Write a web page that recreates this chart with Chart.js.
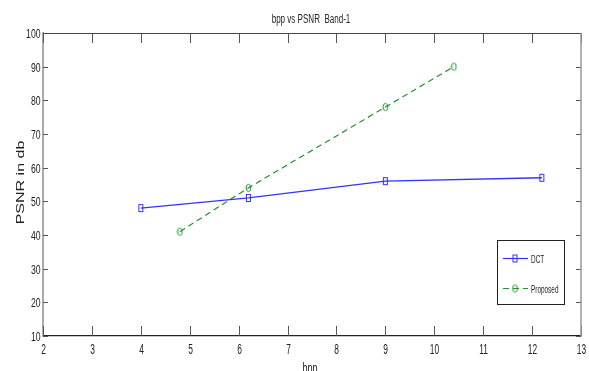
<!DOCTYPE html>
<html>
<head>
<meta charset="utf-8">
<script src="https://cdn.jsdelivr.net/npm/chart.js@4.4.1/dist/chart.umd.min.js"></script>
<style>
  html, body { margin: 0; padding: 0; background: #fff; }
</style>
</head>
<body>
<canvas id="myChart" width="589" height="371"></canvas>
<script>
// values
const seriesNames = ["DCT", "Proposed"];
const dctBpp = [4, 6.2, 9, 12.2];
const dctPsnr = [48, 51, 56, 57];
const propBpp = [4.8, 6.2, 9, 10.4];
const propPsnr = [41, 54, 78, 90];
const xTicks = [2, 3, 4, 5, 6, 7, 8, 9, 10, 11, 12, 13];
const yTicks = [10, 20, 30, 40, 50, 60, 70, 80, 90, 100];
const chartTitle = "bpp vs PSNR  Band-1";
const xTitle = "bpp";
const yTitle = "PSNR in db";

const FONT = "'Liberation Sans', Arial, sans-serif";
const INK = "#222";
const BLUE = "#3333ff";
const GREEN = "#22932a";

function makeMarker(kind, color) {
  const c = document.createElement("canvas");
  c.width = 7;
  c.height = 10;
  const g = c.getContext("2d");
  g.strokeStyle = color;
  g.lineWidth = 1;
  if (kind === "rect") {
    g.strokeRect(1.5, 1.5, 4, 7);
  } else {
    g.beginPath();
    g.ellipse(3.5, 5, 2.4, 3.6, 0, 0, Math.PI * 2);
    g.stroke();
  }
  return c;
}

const dctMarker = makeMarker("rect", BLUE);
const propMarker = makeMarker("circle", GREEN);

function toPoints(xs, ys) {
  return xs.map((v, i) => ({ x: v, y: ys[i] }));
}

// the picture's text is squeezed sideways, so draw it with a scale
function squeezed(ctx, text, x, y, size, sx, sy, align, base, rot) {
  ctx.save();
  ctx.translate(x, y);
  if (rot) ctx.rotate(rot);
  ctx.scale(sx, sy);
  ctx.font = size + "px " + FONT;
  ctx.fillStyle = INK;
  ctx.textAlign = align;
  ctx.textBaseline = base;
  ctx.fillText(text, 0, 0);
  ctx.restore();
}

// title, labels, box, inward ticks and the legend box in the plot
const frame = {
  id: "frame",
  afterDraw(chart) {
    const ctx = chart.ctx;
    const a = chart.chartArea;
    const x = chart.scales.x;
    const y = chart.scales.y;
    ctx.save();

    function seg(x1, y1, x2, y2) {
      ctx.beginPath();
      ctx.moveTo(x1, y1);
      ctx.lineTo(x2, y2);
      ctx.stroke();
    }

    ctx.lineWidth = 1;
    ctx.strokeStyle = "#555";
    x.ticks.forEach(function (t) {
      const px = Math.round(x.getPixelForValue(t.value)) + 0.5;
      seg(px, a.bottom, px, a.bottom - 10);
      seg(px, a.top, px, a.top + 10);
      squeezed(ctx, String(t.value), px, a.bottom + 18, 14, 0.6, 1, "center", "alphabetic");
    });
    y.ticks.forEach(function (t) {
      const py = Math.round(y.getPixelForValue(t.value)) + 0.5;
      seg(a.left, py, a.left + 5, py);
      seg(a.right, py, a.right - 5, py);
      squeezed(ctx, String(t.value), 40.5, py + 4.5, 13.5, 0.64, 1, "right", "alphabetic");
    });

    // top and right edges of the box
    ctx.strokeStyle = "#444";
    seg(a.left, Math.round(a.top) + 0.5, a.right, Math.round(a.top) + 0.5);
    ctx.strokeStyle = "#999";
    ctx.lineWidth = 1.5;
    seg(a.right, a.top, a.right, a.bottom);

    // titles
    const cx = (a.left + a.right) / 2;
    squeezed(ctx, chartTitle, cx - 1, 22.7, 12, 0.67, 1, "center", "alphabetic");
    squeezed(ctx, xTitle, cx - 2, 373, 15, 0.6, 1, "center", "alphabetic");
    squeezed(ctx, yTitle, 24, (a.top + a.bottom) / 2 - 2, 16, 1, 0.7, "center", "alphabetic", -Math.PI / 2);

    // legend
    const lx = 497, ly = 240, lw = 67, lh = 64;
    ctx.fillStyle = "#fff";
    ctx.fillRect(lx, ly, lw, lh);
    ctx.strokeStyle = INK;
    ctx.lineWidth = 1;
    ctx.strokeRect(lx + 0.5, ly + 0.5, lw, lh);
    const ds = chart.data.datasets;
    const rows = [258, 288];
    ds.forEach(function (d, i) {
      const ry = rows[i] + 0.5;
      ctx.strokeStyle = d.borderColor;
      ctx.lineWidth = 1.2;
      ctx.setLineDash(d.borderDash || []);
      seg(lx + 6, ry, lx + 31, ry);
      ctx.setLineDash([]);
      const m = d.pointStyle;
      ctx.drawImage(m, lx + 18 - m.width / 2, ry - m.height / 2);
      squeezed(ctx, d.label, lx + 34, ry + 4, 10.7, 0.6, 1, "left", "alphabetic");
    });
    ctx.restore();
  },
};

const ctx = document.getElementById("myChart");
new Chart(ctx, {
  type: "line",
  data: {
    datasets: [
      {
        label: seriesNames[0],
        data: toPoints(dctBpp, dctPsnr),
        borderColor: BLUE,
        borderWidth: 1.3,
        pointStyle: dctMarker,
        fill: false,
        tension: 0,
      },
      {
        label: seriesNames[1],
        data: toPoints(propBpp, propPsnr),
        borderColor: GREEN,
        borderWidth: 1.2,
        borderDash: [6, 4],
        pointStyle: propMarker,
        fill: false,
        tension: 0,
      },
    ],
  },
  options: {
    responsive: false,
    animation: false,
    layout: { padding: { top: 33, right: 8, left: 0, bottom: 0 } },
    plugins: {
      legend: { display: false },
      title: { display: false },
      tooltip: { enabled: false },
    },
    scales: {
      x: {
        type: "linear",
        min: 2,
        max: 13,
        afterBuildTicks: function (s) {
          s.ticks = xTicks.map((v) => ({ value: v }));
        },
        afterFit: function (s) {
          s.height = 35;
        },
        grid: { display: false, drawTicks: false },
        border: { display: true, color: "#222", width: 1.2 },
        ticks: { display: false },
      },
      y: {
        type: "linear",
        min: 10,
        max: 100,
        afterBuildTicks: function (s) {
          s.ticks = yTicks.map((v) => ({ value: v }));
        },
        afterFit: function (s) {
          s.width = 43;
        },
        grid: { display: false, drawTicks: false },
        border: { display: true, color: "#aaa", width: 2 },
        ticks: { display: false },
      },
    },
  },
  plugins: [frame],
});
</script>
</body>
</html>
